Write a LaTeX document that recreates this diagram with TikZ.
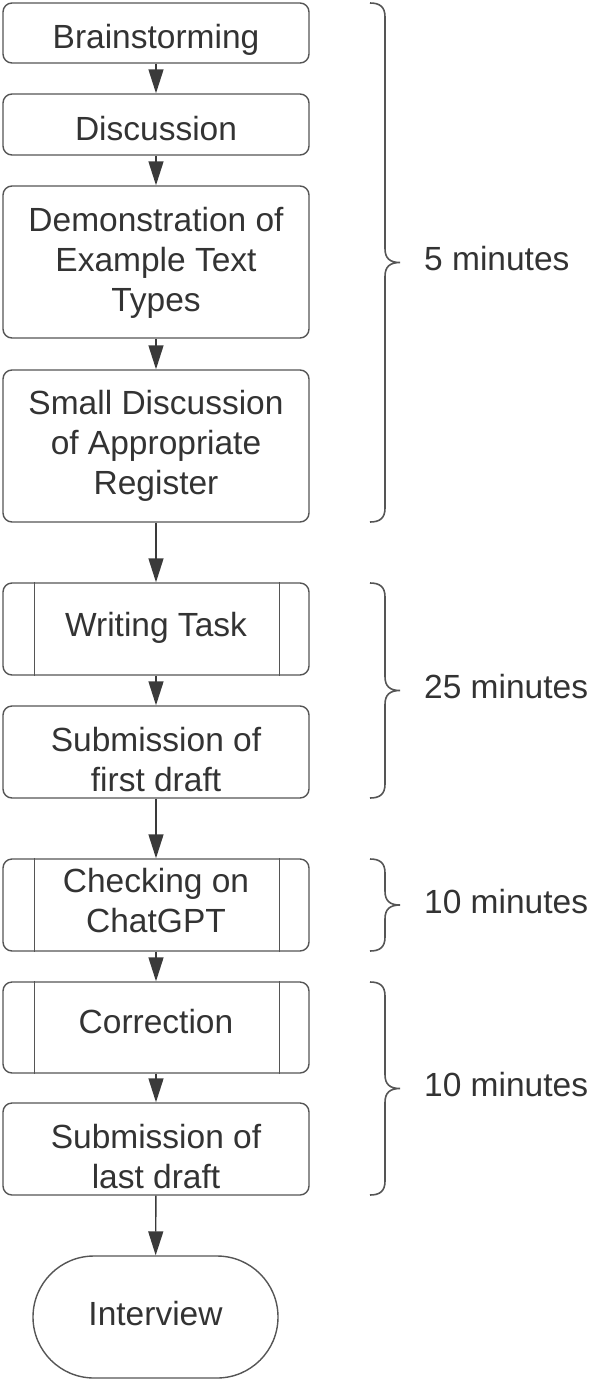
\documentclass[tikz,border=0pt]{standalone}
\usepackage{fontspec}
\setmainfont{Liberation Sans}
\usetikzlibrary{arrows.meta}
\definecolor{ln}{HTML}{555555}
\definecolor{ar}{HTML}{3a3a3a}
\definecolor{tx}{HTML}{333333}
\newcommand{\myhi}[1]{\rule{0pt}{#1pt}}
\newcommand{\mylo}[1]{\rule[-#1pt]{0pt}{#1pt}}
\newcommand{\mybrace}[2]{%
  \pgfmathsetmacro{\bmid}{(#1+#2)/2}%
  \draw[bracestyle] (370,#1) .. controls (380,#1) and (385,#1+4) .. (385,#1+14)
    -- (385,\bmid-14) .. controls (385,\bmid-4) and (390,\bmid) .. (400,\bmid)
    .. controls (390,\bmid) and (385,\bmid+4) .. (385,\bmid+14)
    -- (385,#2-14) .. controls (385,#2-4) and (380,#2) .. (370,#2);}
\begin{document}
\begin{tikzpicture}[x=1pt,y=-1pt,
  box/.style={draw=ln, line width=1.4pt, rounded corners=9pt, minimum width=306pt,
    inner sep=0pt, align=center, text=tx, font=\fontsize{33.5}{40}\selectfont},
  flow/.style={draw=ar, line width=1.4pt, -{Triangle[length=24pt,width=15pt]}},
  side/.style={draw=ln, line width=1.4pt},
  bracestyle/.style={draw=ln, line width=1.6pt},
  lab/.style={anchor=base west, inner sep=0pt, text=tx, font=\fontsize{33.5}{40}\selectfont}]
\useasboundingbox (0,0) rectangle (590,1382);
\node[box, minimum height=60pt] (b1) at (156,33) {\myhi{38}Brainstorming\mylo{8}};
\node[box, minimum height=61pt] (b2) at (156,124.5) {\myhi{39}Discussion\mylo{8}};
\node[box, minimum height=152pt] (b3) at (156,262) {\myhi{27}Demonstration of\\Example Text\\Types\mylo{7.5}};
\node[box, minimum height=152pt] (b4) at (156,446) {\myhi{24.5}Small Discussion\\of Appropriate\\Register\mylo{7}};
\node[box, minimum height=92pt] (b5) at (156,629) {\myhi{24.5}Writing Task\mylo{10.5}};
\node[box, minimum height=92pt] (b6) at (156,752) {\myhi{40}Submission of\\first draft};
\node[box, minimum height=92pt] (b7) at (156,905) {\myhi{24.5}Checking on\\ChatGPT\mylo{10.5}};
\node[box, minimum height=91pt] (b8) at (156,1027.5) {\myhi{24.5}Correction\mylo{13.5}};
\node[box, minimum height=92pt] (b9) at (156,1149) {\myhi{40}Submission of\\last draft};
\node[box, minimum width=245pt, minimum height=122pt, rounded corners=61pt] (b10) at (155.5,1317) {\myhi{24.5}Interview\mylo{8.5}};
\foreach \n in {b5,b7,b8}{
  \draw[side] ([xshift=32pt]\n.north west) -- ([xshift=32pt]\n.south west);
  \draw[side] ([xshift=-30pt]\n.north east) -- ([xshift=-30pt]\n.south east);
}
\draw[flow] (b1) -- (b2);
\draw[flow] (b2) -- (b3);
\draw[flow] (b3) -- (b4);
\draw[flow] (b4) -- (b5);
\draw[flow] (b5) -- (b6);
\draw[flow] (b6) -- (b7);
\draw[flow] (b7) -- (b8);
\draw[flow] (b8) -- (b9);
\draw[flow] (b9) -- (b10);
\mybrace{3}{522}
\mybrace{583}{798}
\mybrace{859}{951}
\mybrace{982}{1195}
\node[lab] (t1) at (424,270) {5 minutes};
\node[lab] (t2) at (424,698) {25 minutes};
\node[lab] (t3) at (424,913) {10 minutes};
\node[lab] (t4) at (424,1096) {10 minutes};
\end{tikzpicture}
\end{document}
